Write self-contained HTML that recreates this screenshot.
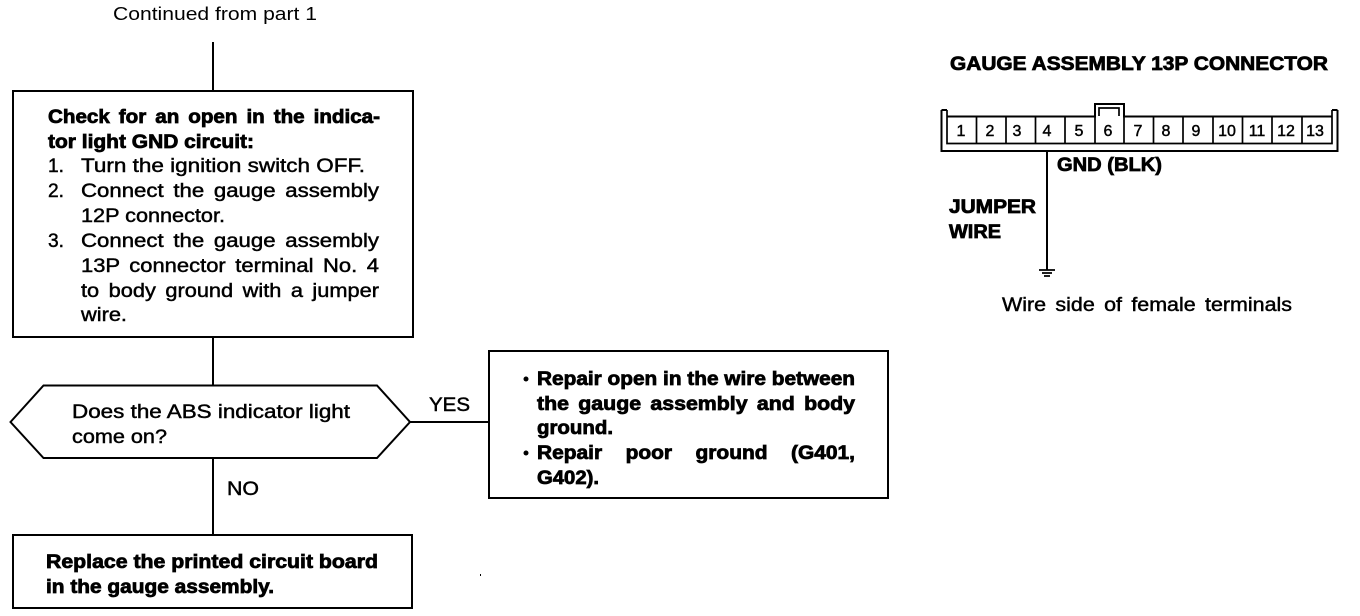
<!DOCTYPE html>
<html><head><meta charset="utf-8"><style>
html,body{margin:0;padding:0;background:#fff;width:1360px;height:616px;overflow:hidden}
svg{display:block}
text{font-family:"Liberation Sans",sans-serif;fill:#000;font-size:19px;stroke:#000;stroke-width:.45px}
.b{font-weight:bold;stroke-width:.75px}
.w{word-spacing:3px}
.x{word-spacing:16px}
.l{stroke:#000;stroke-width:2;fill:none}
.t{stroke:#000;stroke-width:1.7;fill:none}
</style></head><body>
<svg width="1360" height="616" viewBox="0 0 1360 616" xmlns="http://www.w3.org/2000/svg">
<text x="113" y="20" textLength="204" lengthAdjust="spacingAndGlyphs" style="stroke-width:0;font-size:18px">Continued from part 1</text>
<path class="l" d="M213 42V91M213 337V385M213 458V535M410 422H489"/>
<rect class="l" x="13" y="91" width="400" height="246"/>
<path class="l" d="M10.500 422L43.500 385.500H377L410 422L377 458H43.500Z"/>
<rect class="l" x="489" y="351" width="399" height="147"/>
<rect class="l" x="13" y="535" width="399" height="73"/>

<text class="b w" x="48" y="123" textLength="332" lengthAdjust="spacingAndGlyphs">Check for an open in the indica-</text>
<text class="b" x="48" y="148" textLength="206" lengthAdjust="spacingAndGlyphs">tor light GND circuit:</text>
<text x="48" y="172" textLength="16" lengthAdjust="spacingAndGlyphs">1.</text><text x="81" y="172" textLength="284" lengthAdjust="spacingAndGlyphs">Turn the ignition switch OFF.</text>
<text x="48" y="197" textLength="16" lengthAdjust="spacingAndGlyphs">2.</text><text class="w" x="81" y="197" textLength="298" lengthAdjust="spacingAndGlyphs">Connect the gauge assembly</text>
<text x="81" y="222" textLength="144" lengthAdjust="spacingAndGlyphs">12P connector.</text>
<text x="48" y="247" textLength="16" lengthAdjust="spacingAndGlyphs">3.</text><text class="w" x="81" y="247" textLength="298" lengthAdjust="spacingAndGlyphs">Connect the gauge assembly</text>
<text class="w" x="81" y="272" textLength="298" lengthAdjust="spacingAndGlyphs">13P connector terminal No. 4</text>
<text class="w" x="81" y="297" textLength="298" lengthAdjust="spacingAndGlyphs">to body ground with a jumper</text>
<text x="81" y="321" textLength="46" lengthAdjust="spacingAndGlyphs">wire.</text>

<text x="72" y="418" textLength="278" lengthAdjust="spacingAndGlyphs">Does the ABS indicator light</text>
<text x="72" y="443" textLength="95" lengthAdjust="spacingAndGlyphs">come on?</text>
<text x="429" y="411" textLength="41" lengthAdjust="spacingAndGlyphs">YES</text>
<text x="227" y="495" textLength="32" lengthAdjust="spacingAndGlyphs">NO</text>

<circle cx="526" cy="379" r="2.500"/>
<text class="b" x="537" y="385" textLength="318" lengthAdjust="spacingAndGlyphs">Repair open in the wire between</text>
<text class="b w" x="537" y="410" textLength="318" lengthAdjust="spacingAndGlyphs">the gauge assembly and body</text>
<text class="b" x="537" y="434" textLength="76" lengthAdjust="spacingAndGlyphs">ground.</text>
<circle cx="526" cy="453" r="2.500"/>
<text class="b x" x="537" y="459" textLength="318" lengthAdjust="spacingAndGlyphs">Repair poor ground (G401,</text>
<text class="b" x="537" y="484" textLength="62" lengthAdjust="spacingAndGlyphs">G402).</text>

<text class="b" x="46" y="568" textLength="332" lengthAdjust="spacingAndGlyphs">Replace the printed circuit board</text>
<text class="b" x="46" y="593" textLength="228" lengthAdjust="spacingAndGlyphs">in the gauge assembly.</text>

<text class="b" x="950" y="70" textLength="378" lengthAdjust="spacingAndGlyphs">GAUGE ASSEMBLY 13P CONNECTOR</text>
<path class="l" d="M941.500 110V151H1337.500V110"/>
<path class="l" d="M941.500 110H947M1337.500 110H1332"/>
<path class="t" d="M947 110V143.500H1332V110"/>
<path class="l" d="M947 116.500H1095V104H1124V116.500H1332"/>
<path class="t" d="M1099 116V108H1119V116"/>
<path class="t" d="M976.500 117V143M1006 117V143M1035.500 117V143M1065 117V143M1095 117V143M1124 117V143M1153.500 117V143M1183 117V143M1213 117V143M1242.500 117V143M1272 117V143M1302 117V143"/>
<g text-anchor="middle">
<text x="961" y="136" style="font-size:16px">1</text><text x="990" y="136" style="font-size:16px">2</text><text x="1017" y="136" style="font-size:16px">3</text><text x="1047" y="136" style="font-size:16px">4</text><text x="1079" y="136" style="font-size:16px">5</text><text x="1108" y="136" style="font-size:16px">6</text><text x="1138" y="136" style="font-size:16px">7</text><text x="1166" y="136" style="font-size:16px">8</text><text x="1196" y="136" style="font-size:16px">9</text><text x="1227" y="136" style="font-size:16px">10</text><text x="1257" y="136" style="font-size:16px">11</text><text x="1286" y="136" style="font-size:16px">12</text><text x="1315" y="136" style="font-size:16px">13</text>
</g>
<path class="l" d="M1047 151V270"/>
<path class="t" d="M1039 270H1055M1042 273H1052M1044 276H1050"/>
<text class="b" x="1057" y="171" textLength="105" lengthAdjust="spacingAndGlyphs">GND (BLK)</text>
<text class="b" x="949" y="213" textLength="87" lengthAdjust="spacingAndGlyphs">JUMPER</text>
<text class="b" x="949" y="238" textLength="52" lengthAdjust="spacingAndGlyphs">WIRE</text>
<text class="w" x="1002" y="311" textLength="290" lengthAdjust="spacingAndGlyphs">Wire side of female terminals</text>
<rect x="480" y="574" width="1" height="2"/>
</svg>
</body></html>
